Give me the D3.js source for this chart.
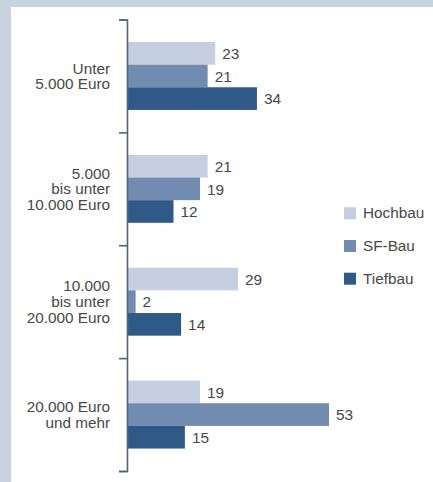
<!DOCTYPE html>
<html>
<head>
<meta charset="utf-8">
<script src="https://cdn.jsdelivr.net/npm/d3@7"></script>
<style>
  html, body { margin: 0; padding: 0; background: #fff; }
  svg { display: block; }
  text { font-family: "Liberation Sans", Arial, Helvetica, sans-serif; fill: #474747; }
</style>
</head>
<body>
<svg id="chart" width="433" height="482"></svg>
<script>
// Auftragsgrößenklassen (in Prozent je Bausparte)
const categories = [
  ["Unter", "5.000 Euro"],
  ["5.000", "bis unter", "10.000 Euro"],
  ["10.000", "bis unter", "20.000 Euro"],
  ["20.000 Euro", "und mehr"]
];
const seriesNames = ["Hochbau", "SF-Bau", "Tiefbau"];
const hochbau = [23, 21, 29, 19];
const sfBau   = [21, 19, 2, 53];
const tiefbau = [34, 12, 14, 15];
const seriesValues = [hochbau, sfBau, tiefbau];
const colors = ["#c5cfe1", "#728bb1", "#2f5a88"];

const W = 433, H = 482;
const svg = d3.select("#chart");

// page frame: tinted band along the top and left edge
svg.append("rect").attr("x", 0).attr("y", 0).attr("width", W).attr("height", H).attr("fill", "#c8d4dd");
svg.append("rect").attr("x", 11).attr("y", 7).attr("width", W - 11).attr("height", H - 7).attr("fill", "#fff");

const axisX = 127;
const y = d3.scaleBand()
  .domain(d3.range(categories.length))
  .range([19.5, 471])
  .paddingInner(0).paddingOuter(0);

const x = d3.scaleLinear().domain([0, 53]).range([axisX + 1, 329]);

const groupH = 68;
const ySub = d3.scaleBand().domain(d3.range(seriesNames.length)).range([0, groupH]);

const groups = svg.append("g").selectAll("g")
  .data(categories)
  .join("g")
  .attr("transform", (d, i) => `translate(0,${y(i) + y.bandwidth() / 2 - groupH / 2})`);

groups.each(function (cat, ci) {
  const g = d3.select(this);
  seriesValues.forEach((vals, si) => {
    const v = vals[ci];
    g.append("rect")
      .attr("x", x(0))
      .attr("y", ySub(si))
      .attr("width", x(v) - x(0))
      .attr("height", ySub.bandwidth())
      .attr("fill", colors[si]);
    g.append("text")
      .attr("x", x(v) + 7)
      .attr("y", ySub(si) + ySub.bandwidth() / 2 + 5.8)
      .attr("font-size", 15.4)
      .text(v);
  });
});

// category labels, right aligned next to the axis
const lineH = 15.7;
svg.append("g").selectAll("text")
  .data(categories)
  .join("text")
  .attr("text-anchor", "end")
  .attr("font-size", 15.3)
  .each(function (lines, i) {
    const cy = y(i) + y.bandwidth() / 2 + 5.5;
    const first = cy - (lines.length - 1) / 2 * lineH;
    d3.select(this).selectAll("tspan")
      .data(lines)
      .join("tspan")
      .attr("x", 110)
      .attr("y", (d, k) => first + k * lineH)
      .text(d => d);
  });

// vertical axis with ticks at the band boundaries
const axis = d3.axisLeft(d3.scaleLinear().domain([0, categories.length]).range([19.5, 471]))
  .ticks(categories.length)
  .tickSize(8)
  .tickSizeOuter(8)
  .tickFormat("");
const axG = svg.append("g").attr("transform", `translate(${axisX},0)`).call(axis);
axG.selectAll("path, line").attr("stroke", "#4e6577").attr("stroke-width", 1.6);

// legend
const legend = svg.append("g").selectAll("g")
  .data(seriesNames)
  .join("g")
  .attr("transform", (d, i) => `translate(344,${207.3 + i * 32.7})`);
legend.append("rect").attr("width", 12).attr("height", 12).attr("fill", (d, i) => colors[i]);
legend.append("text").attr("x", 19).attr("y", 11).attr("font-size", 15.3).text(d => d);
</script>
</body>
</html>
